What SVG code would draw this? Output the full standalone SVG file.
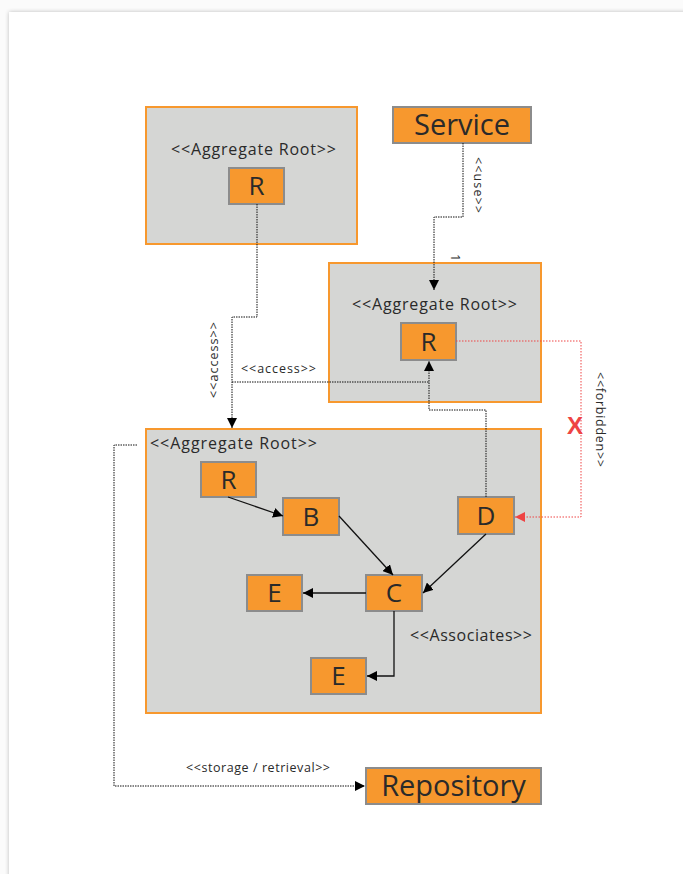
<svg xmlns="http://www.w3.org/2000/svg" width="683" height="874" viewBox="0 0 683 874">
  <defs>
    <filter id="pageShadow" x="-5%" y="-5%" width="110%" height="110%">
      <feGaussianBlur in="SourceAlpha" stdDeviation="2"/>
      <feComponentTransfer><feFuncA type="linear" slope="0.25"/></feComponentTransfer>
      <feMerge><feMergeNode/><feMergeNode in="SourceGraphic"/></feMerge>
    </filter>
    <marker id="arrowBlack" viewBox="0 0 10 10" refX="10" refY="5" markerWidth="10" markerHeight="10" markerUnits="userSpaceOnUse" orient="auto">
      <path d="M0,0 L10,5 L0,10 z" fill="#000"/>
    </marker>
    <marker id="arrowRed" viewBox="0 0 10 10" refX="10" refY="5" markerWidth="10" markerHeight="10" markerUnits="userSpaceOnUse" orient="auto">
      <path d="M0,0 L10,5 L0,10 z" fill="#ee4444"/>
    </marker>
  </defs>
  <style>
    .container { fill: #d5d6d4; stroke: #f7982e; stroke-width: 2; }
    .node { fill: #f7982e; stroke: #8c8c8c; stroke-width: 2; }
    .label { font-family: "Open Sans", "Noto Sans", "Liberation Sans", sans-serif; fill: #2a2a2a; }
    .big { font-size: 26px; text-anchor: middle; }
    .huge { font-size: 29px; text-anchor: middle; }
    .title { font-size: 16px; }
    .small { font-size: 12.5px; }
    .dotted { fill: none; stroke: #111; stroke-width: 1; stroke-dasharray: 1.5 1; }
    .solid { fill: none; stroke: #111; stroke-width: 1.3; }
    .red { fill: none; stroke: #ee4444; stroke-width: 1; stroke-dasharray: 1.5 1.5; }
  </style>

  <!-- page -->
  <rect x="0" y="0" width="683" height="874" fill="#fbfbfb"/>
  <rect x="9" y="12" width="690" height="880" fill="#ffffff" filter="url(#pageShadow)"/>

  <!-- aggregate (top left) -->
  <g id="aggregate-top-left">
    <rect class="container" x="146" y="107" width="211" height="137"/>
    <text class="label title" x="171" y="155" textLength="165" lengthAdjust="spacing">&lt;&lt;Aggregate Root&gt;&gt;</text>
  </g>
  <g id="root-top-left">
    <rect class="node" x="229" y="168" width="55" height="36"/>
    <text class="label big" x="256.5" y="195">R</text>
  </g>

  <!-- service -->
  <g id="service">
    <rect class="node" x="393" y="107" width="138" height="36"/>
    <text class="label huge" x="462" y="135">Service</text>
  </g>

  <!-- aggregate (middle right) -->
  <g id="aggregate-middle">
    <rect class="container" x="329" y="263" width="212" height="139"/>
    <text class="label title" x="352" y="310" textLength="165" lengthAdjust="spacing">&lt;&lt;Aggregate Root&gt;&gt;</text>
  </g>
  <g id="root-middle">
    <rect class="node" x="401" y="323" width="55" height="37"/>
    <text class="label big" x="428.5" y="351">R</text>
  </g>

  <!-- aggregate (large) -->
  <g id="aggregate-main">
    <rect class="container" x="146" y="429" width="395" height="284"/>
    <text class="label title" x="150" y="449" textLength="167" lengthAdjust="spacing">&lt;&lt;Aggregate Root&gt;&gt;</text>
    <text class="label title" x="410" y="641" textLength="122" lengthAdjust="spacing">&lt;&lt;Associates&gt;&gt;</text>
  </g>
  <g id="root-main">
    <rect class="node" x="201" y="462" width="55" height="35"/>
    <text class="label big" x="228.5" y="489">R</text>
  </g>
  <g id="entity-b">
    <rect class="node" x="283" y="498" width="56" height="37"/>
    <text class="label big" x="311" y="526">B</text>
  </g>
  <g id="entity-d">
    <rect class="node" x="458" y="497" width="56" height="37"/>
    <text class="label big" x="486" y="525">D</text>
  </g>
  <g id="entity-c">
    <rect class="node" x="366" y="575" width="56" height="36"/>
    <text class="label big" x="394" y="602">C</text>
  </g>
  <g id="entity-e1">
    <rect class="node" x="247" y="575" width="55" height="36"/>
    <text class="label big" x="274.5" y="602">E</text>
  </g>
  <g id="entity-e2">
    <rect class="node" x="311" y="658" width="55" height="36"/>
    <text class="label big" x="338.5" y="685">E</text>
  </g>

  <!-- repository -->
  <g id="repository">
    <rect class="node" x="366" y="768" width="175" height="36"/>
    <text class="label huge" x="453.5" y="796">Repository</text>
  </g>

  <!-- connectors -->
  <g id="connectors">
    <!-- service uses middle aggregate -->
    <path class="dotted" d="M463,143 V217 H434 V290" marker-end="url(#arrowBlack)"/>
    <text class="label small" transform="translate(474,157) rotate(90)" textLength="56" lengthAdjust="spacing">&lt;&lt;use&gt;&gt;</text>
    <text class="label small" transform="translate(451,254) rotate(90)">1</text>

    <!-- top-left root accesses main aggregate -->
    <path class="dotted" d="M257,204 V317 H232 V428" marker-end="url(#arrowBlack)"/>
    <text class="label small" transform="translate(218,398) rotate(-90)" textLength="76" lengthAdjust="spacing">&lt;&lt;access&gt;&gt;</text>

    <!-- main aggregate accesses middle root -->
    <path class="dotted" d="M232,382 H429 V361" marker-end="url(#arrowBlack)"/>
    <text class="label small" x="241" y="373" textLength="75" lengthAdjust="spacing">&lt;&lt;access&gt;&gt;</text>

    <!-- D reaches middle root -->
    <path class="dotted" d="M486,497 V410 H429 V382"/>

    <!-- forbidden reference -->
    <path class="red" d="M456,341 H581 V517 H515" marker-end="url(#arrowRed)"/>
    <text x="575" y="434" font-family="'Liberation Sans', Arial, sans-serif" font-size="24" font-weight="bold" fill="#ee4444" text-anchor="middle">X</text>
    <text class="label small" transform="translate(596,372) rotate(90)" textLength="95" lengthAdjust="spacing">&lt;&lt;forbidden&gt;&gt;</text>

    <!-- associations inside the main aggregate -->
    <path class="solid" d="M228,497 L283,516" marker-end="url(#arrowBlack)"/>
    <path class="solid" d="M339,516 L393,575" marker-end="url(#arrowBlack)"/>
    <path class="solid" d="M486,534 L423,593" marker-end="url(#arrowBlack)"/>
    <path class="solid" d="M366,593 H303" marker-end="url(#arrowBlack)"/>
    <path class="solid" d="M394,611 V676 H367" marker-end="url(#arrowBlack)"/>

    <!-- storage / retrieval -->
    <path class="dotted" d="M137,445 H114 V786 H365" marker-end="url(#arrowBlack)"/>
    <text class="label small" x="186" y="772" textLength="144" lengthAdjust="spacing">&lt;&lt;storage / retrieval&gt;&gt;</text>
  </g>
</svg>
